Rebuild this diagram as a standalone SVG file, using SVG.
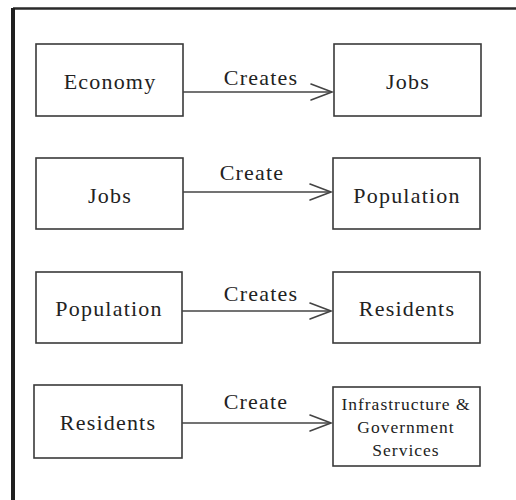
<svg xmlns="http://www.w3.org/2000/svg" width="516" height="500" viewBox="0 0 516 500">
  <style>
    .box { fill: #ffffff; stroke: #3a3a3a; stroke-width: 1.6; }
    .lbl { font-family: "Liberation Serif", "Times New Roman", serif; font-size: 22px; letter-spacing: 1.2px; fill: #222; text-anchor: middle; }
    .sm { font-size: 17.5px; letter-spacing: 1px; }
    .edge { stroke: #444; stroke-width: 1.6; fill: none; }
    .head { stroke: #444; stroke-width: 1.6; fill: none; stroke-linecap: round; stroke-linejoin: miter; }
  </style>
  <rect x="0" y="0" width="516" height="500" fill="#ffffff"/>
  <!-- frame: heavy left rule and top rule -->
  <g id="frame">
    <line x1="13" y1="8.5" x2="516" y2="8.5" stroke="#2a2a2a" stroke-width="2.5"/>
    <line x1="13" y1="8" x2="13" y2="500" stroke="#1f1f1f" stroke-width="4"/>
  </g>

  <g id="economy">
    <rect class="box" x="36" y="44" width="147" height="72"/>
    <text class="lbl" x="110" y="89">Economy</text>
  </g>
  <g id="jobs-1">
    <rect class="box" x="334" y="44" width="147" height="72"/>
    <text class="lbl" x="408" y="89">Jobs</text>
  </g>

  <g id="jobs-2">
    <rect class="box" x="36" y="158" width="147" height="71"/>
    <text class="lbl" x="110" y="203">Jobs</text>
  </g>
  <g id="population-1">
    <rect class="box" x="333" y="158" width="147" height="71"/>
    <text class="lbl" x="407" y="203">Population</text>
  </g>

  <g id="population-2">
    <rect class="box" x="36" y="272" width="146" height="71"/>
    <text class="lbl" x="109" y="316">Population</text>
  </g>
  <g id="residents-1">
    <rect class="box" x="333" y="272" width="147" height="71"/>
    <text class="lbl" x="407" y="316">Residents</text>
  </g>

  <g id="residents-2">
    <rect class="box" x="34" y="385" width="148" height="73"/>
    <text class="lbl" x="108" y="430">Residents</text>
  </g>
  <g id="infrastructure">
    <rect class="box" x="333" y="387" width="147" height="79"/>
    <text class="lbl sm" x="406" y="410">Infrastructure &amp;</text>
    <text class="lbl sm" x="406" y="433">Government</text>
    <text class="lbl sm" x="406" y="456">Services</text>
  </g>

  <g id="connectors">
    <line class="edge" x1="183" y1="92" x2="332" y2="92"/>
    <polyline class="head" points="311,84 332,92 311,100"/>
    <text class="lbl" x="261" y="85">Creates</text>

    <line class="edge" x1="183" y1="192" x2="331" y2="192"/>
    <polyline class="head" points="310,184 331,192 310,200"/>
    <text class="lbl" x="252" y="180">Create</text>

    <line class="edge" x1="182" y1="311" x2="331" y2="311"/>
    <polyline class="head" points="310,303 331,311 310,319"/>
    <text class="lbl" x="261" y="301">Creates</text>

    <line class="edge" x1="182" y1="423" x2="331" y2="423"/>
    <polyline class="head" points="310,415 331,423 310,431"/>
    <text class="lbl" x="256" y="409">Create</text>
  </g>
</svg>
